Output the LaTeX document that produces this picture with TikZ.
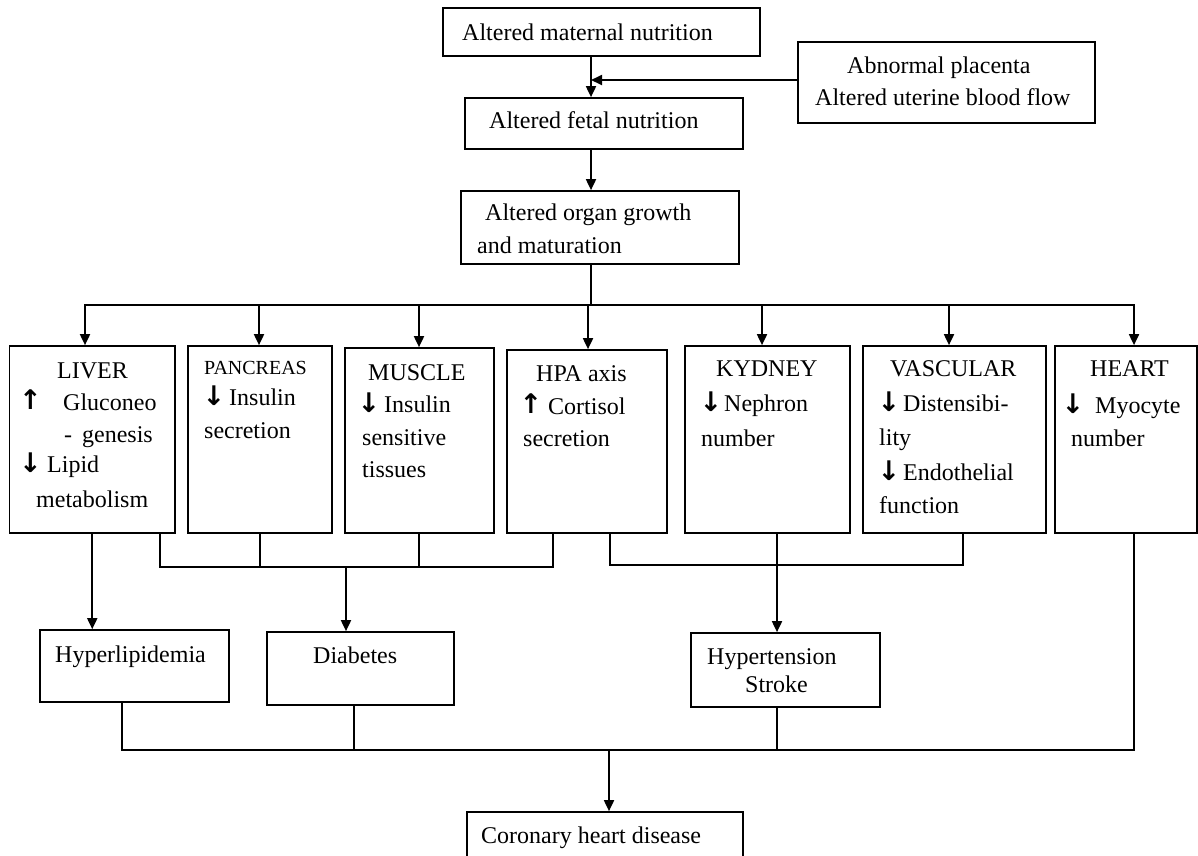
\documentclass[tikz,border=0pt]{standalone}
\usepackage{fontspec}
\setmainfont{Liberation Serif}
\newfontfamily\arrowfont{DejaVu Sans Bold}
\usetikzlibrary{arrows.meta,calc}
\newcommand\ltext[4]{\node[txt,anchor=base west] (#1) at (#2,#3) {#4};}
\newcommand\larrow[4]{\node[arrtxt,anchor=base] (#1) at (#2,#3) {#4};}
\tikzset{
  box/.style={draw, line width=1.7pt, inner sep=0pt},
  txt/.style={inner sep=0pt, font=\fontsize{24}{28}\selectfont},
  arrtxt/.style={inner sep=0pt, font=\arrowfont\fontsize{27}{30}\selectfont},
  smalltxt/.style={inner sep=0pt, font=\fontsize{20}{24}\selectfont},
  conn/.style={line width=1.8pt},
  arr/.style={conn, -{Triangle[length=11pt,width=10pt]}}
}
\begin{document}
\begin{tikzpicture}[x=1pt,y=-1pt]
\clip (0,0) rectangle (1198,855);
\fill[white] (0,0) rectangle (1198,855);
% boxes
\node[box, minimum width=317pt, minimum height=48pt] (mat) at (601.5,32) {};
\node[box, minimum width=297pt, minimum height=81pt] (abn) at (946.5,82.5) {};
\node[box, minimum width=278pt, minimum height=51pt] (fet) at (604,123.5) {};
\node[box, minimum width=278pt, minimum height=73pt] (org) at (600,227.5) {};
\node[box, minimum width=165.5pt, minimum height=187pt] (liver) at (92.25,439.5) {};
\node[box, minimum width=144pt, minimum height=187pt] (pan) at (260,439.5) {};
\node[box, minimum width=149pt, minimum height=185pt] (mus) at (419.5,440.5) {};
\node[box, minimum width=160pt, minimum height=183pt] (hpa) at (587,441.5) {};
\node[box, minimum width=165pt, minimum height=187pt] (kid) at (767.5,439.5) {};
\node[box, minimum width=183pt, minimum height=187pt] (vas) at (954.5,439.5) {};
\node[box, minimum width=142pt, minimum height=187pt] (heart) at (1126,439.5) {};
\node[box, minimum width=189pt, minimum height=72pt] (hyp) at (134.5,666) {};
\node[box, minimum width=187pt, minimum height=73pt] (dia) at (360.5,668.5) {};
\node[box, minimum width=189pt, minimum height=74pt] (htn) at (785.5,670) {};
\node[box, minimum width=276pt, minimum height=68pt] (chd) at (605,846) {};
% upper connectors
\coordinate (spine) at (591,0);
\coordinate (abnin) at ([yshift=2.5pt]abn.west);
\draw[arr] (abnin) -- (spine |- abnin);
\draw[arr] (spine |- mat.south) -- (spine |- fet.north);
\draw[arr] (spine |- fet.south) -- (spine |- org.north);
\coordinate (bus) at (591,305);
\draw[conn] (spine |- org.south) -- (bus);
\coordinate (bL) at (85,305);
\coordinate (bP) at (259,305);
\coordinate (bM) at (419,305);
\coordinate (bA) at (588,305);
\coordinate (bK) at (762,305);
\coordinate (bV) at (949,305);
\coordinate (bH) at (1134,305);
\draw[conn, line cap=rect] (bL) -- (bH);
\draw[arr] (bL) -- (bL |- liver.north);
\draw[arr] (bP) -- (bP |- pan.north);
\draw[arr] (bM) -- (bM |- mus.north);
\draw[arr] (bA) -- (bA |- hpa.north);
\draw[arr] (bK) -- (bK |- kid.north);
\draw[arr] (bV) -- (bV |- vas.north);
\draw[arr] (bH) -- (bH |- heart.north);
% middle connectors
\draw[arr] (liver.south) -- (liver.south |- hyp.north);
\coordinate (d1) at (160,567);
\coordinate (d2) at (553,567);
\coordinate (dd) at (346,567);
\coordinate (dm) at (419,567);
\draw[conn] (d1 |- liver.south) -- (d1) -- (d2) -- (d2 |- hpa.south);
\draw[conn] (pan.south) -- (pan.south |- d1);
\draw[conn] (dm |- mus.south) -- (dm);
\draw[arr] (dd) -- (dd |- dia.north);
\coordinate (h1) at (610,565);
\coordinate (h2) at (963,565);
\coordinate (hk) at (777,0);
\draw[conn] (h1 |- hpa.south) -- (h1) -- (h2) -- (h2 |- vas.south);
\draw[arr] (hk |- kid.south) -- (hk |- htn.north);
% lower connectors
\coordinate (c1) at (122,750);
\coordinate (c2) at (354,750);
\coordinate (c3) at (777,750);
\coordinate (c4) at (1134,750);
\coordinate (cc) at (609,750);
\draw[conn] (c1 |- hyp.south) -- (c1) -- (c4) -- (c4 |- heart.south);
\draw[conn] (c2 |- dia.south) -- (c2);
\draw[conn] (c3 |- htn.south) -- (c3);
\draw[arr] (cc) -- (cc |- chd.north);
% texts
\ltext{tmat}{462}{40}{Altered maternal nutrition}
\ltext{tabn1}{847}{73}{Abnormal placenta}
\ltext{tabn2}{815}{105}{Altered uterine blood flow}
\ltext{tfet}{489}{128}{Altered fetal nutrition}
\ltext{torg1}{485}{220}{Altered organ growth}
\ltext{torg2}{477}{253}{and maturation}
% liver
\ltext{lv1}{57}{378}{LIVER}
\larrow{lv2a}{30.5}{409}{↑}
\ltext{lv2}{63}{410}{Gluconeo}
\ltext{lv3}{64}{442}{-\hspace{10pt}genesis}
\larrow{lv4a}{30.5}{472}{↓}
\ltext{lv4}{47}{472}{Lipid}
\ltext{lv5}{36}{507}{metabolism}
% pancreas
\node[smalltxt, anchor=base west] (pn1) at (204,374) {PANCREAS};
\larrow{pn2a}{214}{405}{↓}
\ltext{pn2}{229}{405}{Insulin}
\ltext{pn3}{204}{438}{secretion}
% muscle
\ltext{ms1}{368}{380}{MUSCLE}
\larrow{ms2a}{369}{412}{↓}
\ltext{ms2}{384}{412}{Insulin}
\ltext{ms3}{362}{445}{sensitive}
\ltext{ms4}{362}{477}{tissues}
% hpa
\ltext{hp1}{536}{381}{HPA axis}
\larrow{hp2a}{531}{413}{↑}
\ltext{hp2}{548}{414}{Cortisol}
\ltext{hp3}{523}{446}{secretion}
% kidney
\ltext{kd1}{716}{376}{KYDNEY}
\larrow{kd2a}{711}{411}{↓}
\ltext{kd2}{724}{411}{Nephron}
\ltext{kd3}{701}{446}{number}
% vascular
\ltext{vs1}{890}{376}{VASCULAR}
\larrow{vs2a}{889}{411}{↓}
\ltext{vs2}{903}{411}{Distensibi-}
\ltext{vs3}{879}{445}{lity}
\larrow{vs4a}{889}{480}{↓}
\ltext{vs4}{903}{480}{Endothelial}
\ltext{vs5}{879}{513}{function}
% heart
\ltext{ht1}{1090}{376}{HEART}
\larrow{ht2a}{1073}{413}{↓}
\ltext{ht2}{1095}{413}{Myocyte}
\ltext{ht3}{1071}{446}{number}
% bottom
\ltext{thyp}{55}{662}{Hyperlipidemia}
\ltext{tdia}{313}{663}{Diabetes}
\ltext{thtn1}{707}{664}{Hypertension}
\ltext{thtn2}{745}{692}{Stroke}
\ltext{tchd}{481}{843}{Coronary heart disease}
\end{tikzpicture}
\end{document}
